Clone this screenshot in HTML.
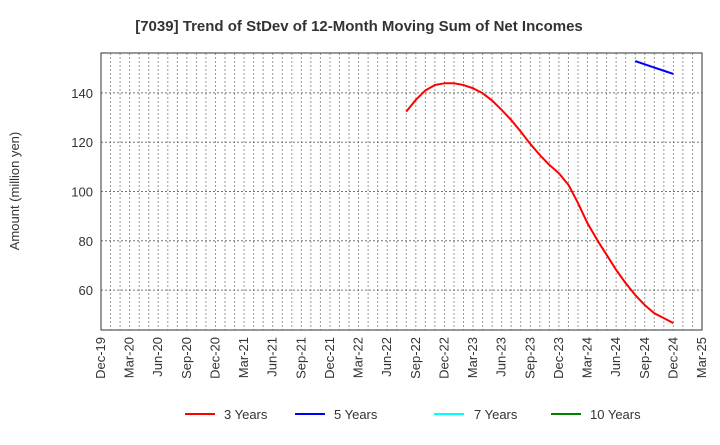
<!DOCTYPE html>
<html><head><meta charset="utf-8"><style>
body{margin:0;background:#fff;font-family:"Liberation Sans",sans-serif;}
svg text{font-family:"Liberation Sans",sans-serif;}
</style></head><body>
<svg id="c" width="720" height="440" xmlns="http://www.w3.org/2000/svg">
<text x="359" y="31" text-anchor="middle" font-size="15" font-weight="bold" fill="#333">[7039]  Trend of StDev of 12-Month Moving Sum of Net Incomes</text>
<text transform="translate(19,191) rotate(-90)" text-anchor="middle" font-size="13" fill="#333">Amount (million yen)</text>
<g id="grid"></g><g id="series"></g><g id="axes"></g>
<g>
<line x1="185" y1="414" x2="215" y2="414" stroke="#ff0000" stroke-width="2"/>
<text x="224" y="419" font-size="13" fill="#333">3 Years</text>
<line x1="295" y1="414" x2="325" y2="414" stroke="#0000ff" stroke-width="2"/>
<text x="334" y="419" font-size="13" fill="#333">5 Years</text>
<line x1="434" y1="414" x2="464" y2="414" stroke="#00ffff" stroke-width="2"/>
<text x="474" y="419" font-size="13" fill="#333">7 Years</text>
<line x1="551" y1="414" x2="581" y2="414" stroke="#008000" stroke-width="2"/>
<text x="590" y="419" font-size="13" fill="#333">10 Years</text>
</g>
</svg>
<script>
const xLabels=["Dec-19","Mar-20","Jun-20","Sep-20","Dec-20","Mar-21","Jun-21","Sep-21","Dec-21","Mar-22","Jun-22","Sep-22","Dec-22","Mar-23","Jun-23","Sep-23","Dec-23","Mar-24","Jun-24","Sep-24","Dec-24","Mar-25"];
const yTicks=[60,80,100,120,140];
const start3=32;
const series3=[132.4,137.2,141,143.2,143.9,143.9,143.2,141.9,139.9,136.9,133.1,129,124.3,119.3,114.8,110.8,107.4,102.7,95.3,87.1,80.4,74.3,68.2,62.8,58,53.9,50.6,48.6,46.6];
const start5=56;
const series5=[152.9,151.6,150.3,149,147.7];
const L=101,R=702,T=53,B=330,YMIN=43.8,YMAX=156.2,NM=63;
const xs=m=>L+(R-L)*m/NM, ys=v=>B-(B-T)*(v-YMIN)/(YMAX-YMIN);
const NS="http://www.w3.org/2000/svg";
function mk(p,t,a){const e=document.createElementNS(NS,t);for(const k in a)e.setAttribute(k,a[k]);p.appendChild(e);return e;}
const g=document.getElementById('grid'),ax=document.getElementById('axes'),s=document.getElementById('series');
for(let m=1;m<NM;m++){const l=mk(g,'line',{x1:xs(m),x2:xs(m),y1:T,y2:B,stroke:'#999','stroke-dasharray':'2,2','stroke-width':1});

}
yTicks.forEach(v=>{const l=mk(g,'line',{x1:L,x2:R,y1:ys(v),y2:ys(v),stroke:'#777','stroke-dasharray':'2,2','stroke-width':1});


const t=mk(ax,'text',{x:L-8,y:ys(v)+5,'text-anchor':'end','font-size':13,fill:'#333'});t.textContent=v;

});
xLabels.forEach((lab,i)=>{const x=xs(i*3);const t=mk(ax,'text',{transform:`translate(${x+4},337) rotate(-90)`,'text-anchor':'end','font-size':13,fill:'#333'});t.textContent=lab;

});
const fr=mk(ax,'rect',{x:L,y:T,width:R-L,height:B-T,fill:'none',stroke:'#333','stroke-width':1});


function line(data,st,col,name){const p=mk(s,'polyline',{points:data.map((v,i)=>xs(st+i)+','+ys(v)).join(' '),fill:'none',stroke:col,'stroke-width':2,'stroke-linejoin':'round'});

}
line(series3,start3,'#ff0000','series-3-years');
line(series5,start5,'#0000ff','series-5-years');
</script>
</body></html>
